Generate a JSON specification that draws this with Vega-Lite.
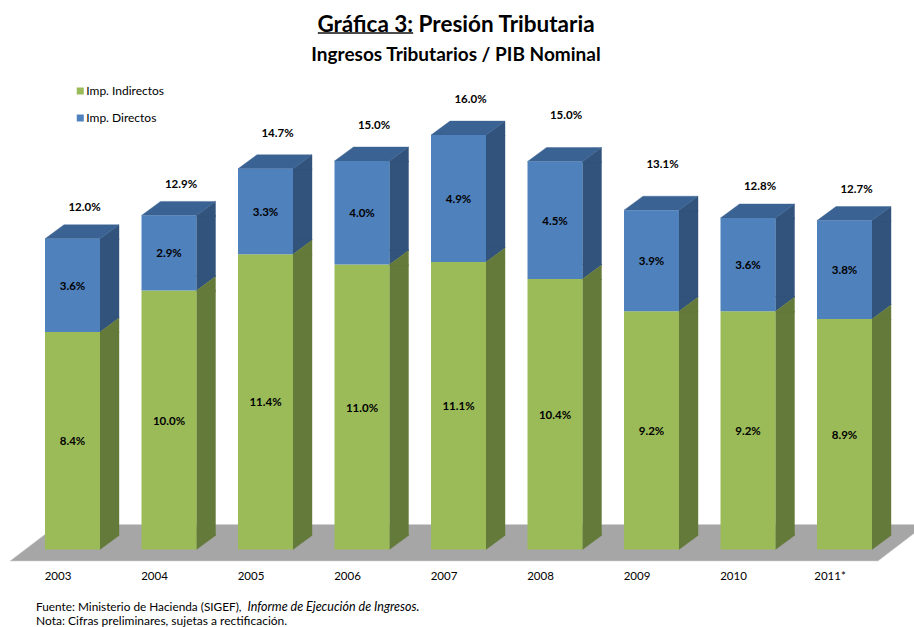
{
"$schema":"https://vega.github.io/schema/vega-lite/v6.json",
"autosize":{"type":"none"},
"padding":{"left":24.25,"right":21.25,"top":60,"bottom":77.5},
"width":868.5,"height":489.5,
"background":"white",
"title":{"text":"Gráfica 3: Presión Tributaria","subtitle":"Ingresos Tributarios / PIB Nominal","anchor":"middle","frame":"group","dx":-2.5,"offset":-33,"font":"Lato","fontSize":22.5,"fontWeight":"bold","color":"#000000","subtitleFont":"Lato","subtitleFontSize":19,"subtitleFontWeight":"bold","subtitleColor":"#000000","subtitlePadding":9},
"config":{"view":{"stroke":null},"text":{"font":"Lato"}},
"datasets":{
"segments":[
{"year":"2003","series":"Imp. Indirectos","value":8.4},{"year":"2003","series":"Imp. Directos","value":3.6},
{"year":"2004","series":"Imp. Indirectos","value":10.0},{"year":"2004","series":"Imp. Directos","value":2.9},
{"year":"2005","series":"Imp. Indirectos","value":11.4},{"year":"2005","series":"Imp. Directos","value":3.3},
{"year":"2006","series":"Imp. Indirectos","value":11.0},{"year":"2006","series":"Imp. Directos","value":4.0},
{"year":"2007","series":"Imp. Indirectos","value":11.1},{"year":"2007","series":"Imp. Directos","value":4.9},
{"year":"2008","series":"Imp. Indirectos","value":10.44},{"year":"2008","series":"Imp. Directos","value":4.54},
{"year":"2009","series":"Imp. Indirectos","value":9.2},{"year":"2009","series":"Imp. Directos","value":3.9},
{"year":"2010","series":"Imp. Indirectos","value":9.2},{"year":"2010","series":"Imp. Directos","value":3.6},
{"year":"2011*","series":"Imp. Indirectos","value":8.9},{"year":"2011*","series":"Imp. Directos","value":3.8}
],
"totals":[
{"year":"2003","total":12.0},{"year":"2004","total":12.9},{"year":"2005","total":14.7},{"year":"2006","total":15.0},{"year":"2007","total":16.0},{"year":"2008","total":15.0},{"year":"2009","total":13.1},{"year":"2010","total":12.8},{"year":"2011*","total":12.7}
],
"notes":[{"line":"note"}]
},
"data":{"name":"segments"},
"transform":[{"stack":"value","groupby":["year"],"sort":[{"field":"series","order":"descending"}],"as":["v0","v1"]}],
"encoding":{
"x":{"field":"year","type":"nominal","sort":null,"title":null,"scale":{"domain":["2003","2004","2005","2006","2007","2008","2009","2010","2011*"],"paddingInner":0,"paddingOuter":0},"axis":{"ticks":false,"domain":false,"labelAngle":0,"labelOffset":-14.5,"labelPadding":21,"labelFont":"Lato","labelFontSize":11.5,"labelColor":"#000000","grid":false}}
},
"layer":[
{"data":{"name":"notes"},"transform":[],"mark":{"type":"point","filled":true,"opacity":1,"size":4,"fill":"#A6A6A6","stroke":"#D0D0D0","strokeWidth":0.5,"shape":"M-448.5 11.5 L419.5 11.5 L455.5 -16 L467.5 -25 L-400.5 -25 Z"},
"encoding":{"x":{"datum":"2007"},"y":{"datum":0,"type":"quantitative","scale":{"domain":[0,18.9],"nice":false,"zero":false},"axis":null}}},
{"mark":{"type":"bar","width":19,"xOffset":37,"y2Offset":-14,"strokeWidth":0.4},
"encoding":{"y":{"field":"v1","type":"quantitative","scale":{"domain":[0,18.9],"nice":false},"axis":null},"y2":{"field":"v0"},"fill":{"field":"series","scale":{"domain":["Imp. Indirectos","Imp. Directos"],"range":["#647A3A","#31537C"]},"legend":null},"stroke":{"field":"series","scale":{"domain":["Imp. Indirectos","Imp. Directos"],"range":["#647A3A","#31537C"]},"legend":null}}},
{"mark":{"type":"point","filled":true,"opacity":1,"size":4,"strokeWidth":0.4,"shape":"M27.5 0 L46.5 -14 L46.5 -15 L27.5 -15 Z"},
"encoding":{"y":{"field":"v0","type":"quantitative"},"fill":{"field":"series","legend":null},"stroke":{"field":"series","legend":null}}},
{"mark":{"type":"point","filled":true,"opacity":1,"size":4,"strokeWidth":0.4,"shape":"M27.5 0 L46.5 -14 L46.5 1 L27.5 1 Z"},
"encoding":{"y":{"field":"v1","type":"quantitative"},"fill":{"field":"series","legend":null},"stroke":{"field":"series","legend":null}}},
{"transform":[{"filter":"datum.series === 'Imp. Directos'"}],"mark":{"type":"point","filled":true,"opacity":1,"size":4,"fill":"#3A6292","stroke":"#3A6292","strokeWidth":0.4,"shape":"M-27.5 0 L27.5 0 L46.5 -14 L-8.5 -14 Z"},
"encoding":{"y":{"field":"v1","type":"quantitative"}}},
{"mark":{"type":"bar","width":55},
"encoding":{"y":{"field":"v1","type":"quantitative"},"y2":{"field":"v0"},"color":{"field":"series","type":"nominal","scale":{"domain":["Imp. Indirectos","Imp. Directos"],"range":["#9BBB59","#4F81BD"]},"legend":{"title":null,"orient":"none","legendX":50,"legendY":25,"symbolType":"square","symbolSize":49,"labelFont":"Lato","labelFontSize":12,"labelColor":"#000000","rowPadding":15,"labelOffset":0}}}},
{"mark":{"type":"text","font":"Lato","fontWeight":"bold","fontSize":11.5,"color":"#000000","baseline":"middle","dy":1.5},
"transform":[{"calculate":"format(datum.value,'.1f')+'%'","as":"label"}],
"encoding":{"y":{"field":"value","type":"quantitative","stack":"zero","bandPosition":0.5},"detail":{"field":"series"},"order":{"field":"series","sort":"descending"},"text":{"field":"label"}}},
{"data":{"name":"totals"},"transform":[{"filter":"indexof(['2003','2004','2010','2011*'],datum.year)>=0"},{"calculate":"format(datum.total,'.1f')+'%'","as":"label"}],
"mark":{"type":"text","font":"Lato","fontWeight":"bold","fontSize":11.5,"color":"#000000","baseline":"middle","dx":12,"dy":-30.5},
"encoding":{"y":{"field":"total","type":"quantitative"},"text":{"field":"label"}}},
{"data":{"name":"totals"},"transform":[{"filter":"indexof(['2005','2006','2007'],datum.year)>=0"},{"calculate":"format(datum.total,'.1f')+'%'","as":"label"}],
"mark":{"type":"text","font":"Lato","fontWeight":"bold","fontSize":11.5,"color":"#000000","baseline":"middle","dx":12,"dy":-35},
"encoding":{"y":{"field":"total","type":"quantitative"},"text":{"field":"label"}}},
{"data":{"name":"totals"},"transform":[{"filter":"indexof(['2008','2009'],datum.year)>=0"},{"calculate":"format(datum.total,'.1f')+'%'","as":"label"}],
"mark":{"type":"text","font":"Lato","fontWeight":"bold","fontSize":11.5,"color":"#000000","baseline":"middle","dx":11,"dy":-45},
"encoding":{"y":{"field":"total","type":"quantitative"},"text":{"field":"label"}}},
{"data":{"name":"notes"},"transform":[],"mark":{"type":"point","filled":true,"opacity":1,"size":4,"fill":"#000000","stroke":"#000000","strokeWidth":0.4,"shape":"M-140.5 -517 L-45.5 -517 L-45.5 -516 L-140.5 -516 Z"},
"encoding":{"x":{"datum":"2007"},"y":{"datum":0,"type":"quantitative"}}},
{"data":{"name":"notes"},"transform":[],"mark":{"type":"text","text":"Fuente: Ministerio de Hacienda (SIGEF),","font":"Lato","fontSize":11.8,"color":"#000000","align":"left","baseline":"middle","dx":-36.5,"dy":57},
"encoding":{"x":{"datum":"2003"},"y":{"datum":0,"type":"quantitative"}}},
{"data":{"name":"notes"},"transform":[],"mark":{"type":"text","text":"Informe de Ejecución de Ingresos.","font":"Lato","fontSize":12.5,"fontStyle":"italic","color":"#000000","align":"left","baseline":"middle","dx":175,"dy":57},
"encoding":{"x":{"datum":"2003"},"y":{"datum":0,"type":"quantitative"}}},
{"data":{"name":"notes"},"transform":[],"mark":{"type":"text","text":"Nota: Cifras preliminares, sujetas a rectificación.","font":"Lato","fontSize":12,"color":"#000000","align":"left","baseline":"middle","dx":-36.5,"dy":71},
"encoding":{"x":{"datum":"2003"},"y":{"datum":0,"type":"quantitative"}}}
],
"resolve":{"legend":{"color":"independent"}}
}
